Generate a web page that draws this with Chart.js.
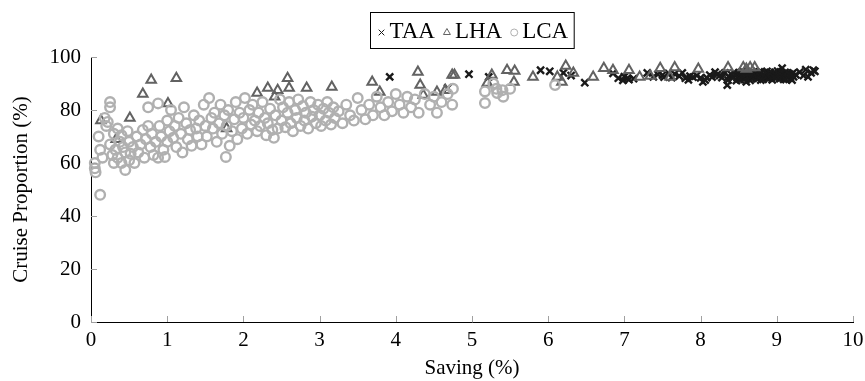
<!DOCTYPE html>
<html>
<head>
<meta charset="utf-8">
<script src="https://cdn.jsdelivr.net/npm/chart.js@4"></script>
<style>
  body { margin: 0; background: #fff; }
  canvas { display: block; }
</style>
</head>
<body>
<canvas id="cruiseChart" width="865" height="381"></canvas>
<script>
// data: [saving %, cruise proportion %]
var seriesNames = ["TAA", "LHA", "LCA"];
var xTicks = [0, 1, 2, 3, 4, 5, 6, 7, 8, 9, 10];
var yTicks = [0, 20, 40, 60, 80, 100];

var taaPoints = [
  [3.92,92.5],[4.68,88.3],[4.96,93.5],[5.22,92.5],[5.9,95],[6.02,94.6],[6.2,94],[6.3,93],[6.48,90.3],
  [6.85,93.8],[6.92,92],[6.98,91.2],[7.0,92.6],[7.04,92],[7.06,91.5],[7.12,91.8],[7.3,94],[7.38,92.5],
  [7.44,93.4],[7.5,93.2],[7.52,92.4],[7.58,93.8],[7.62,92.2],[7.66,93.6],[7.72,92.8],[7.76,94],[7.8,92],
  [7.84,91.4],[7.86,92.8],[7.9,92.4],[7.95,93],[8.0,92.1],[8.03,90.6],[8.06,91.3],[8.08,92.2],[8.12,93.2],
  [8.15,92.4],[8.19,94.3],[8.22,93.4],[8.25,93],[8.28,92.2],[8.32,94],[8.35,89.4],[8.36,91.3],[8.37,92.6],
  [8.4,93.5],[8.42,92.3],[8.44,94.1],
  [8.46,93.2],[8.47,91.1],[8.48,92.1],[8.5,94],[8.51,93.1],[8.52,91.5],[8.53,92.7],[8.54,93],[8.55,94.6],
  [8.56,92.4],[8.57,91.6],[8.58,94.2],[8.59,93.1],[8.6,90.6],[8.61,93.6],[8.62,92.7],[8.63,92],[8.64,93.9],
  [8.65,91.2],[8.66,92.4],[8.67,94.5],[8.68,91.9],[8.69,93],[8.7,92.2],[8.71,93.6],[8.72,94],[8.73,92.8],
  [8.74,91.8],[8.75,92.4],[8.76,93.4],[8.77,94.4],[8.78,92.6],[8.79,91.3],[8.8,94.3],[8.81,93.1],
  [8.82,91.6],[8.83,92.5],[8.84,93],[8.85,92.2],[8.86,93.8],[8.87,94.6],[8.88,91.9],[8.89,93.3],[8.9,92],
  [8.91,94.2],[8.92,93.8],[8.93,92.6],[8.94,91.4],[8.95,92.8],[8.96,93.5],[8.97,94.1],[8.98,92.1],
  [8.99,93],[9.0,92.2],[9.01,94.7],[9.02,93.6],[9.03,92.6],[9.04,91.8],[9.05,94.4],[9.06,93.1],[9.07,95.8],
  [9.08,92.8],[9.09,91.6],[9.1,93.4],[9.11,94.2],[9.12,91.5],[9.13,92.4],[9.14,94],[9.15,92.6],[9.16,93.7],
  [9.17,93.2],[9.18,92],[9.2,91.3],[9.21,93.9],[9.22,92.5],[9.25,93.3],[9.3,94.3],[9.35,93],[9.38,95.2],
  [9.41,92.5],[9.45,94],[9.48,95],[9.5,94.6]
];

var lhaPoints = [
  [0.13,76],[0.33,69],[0.51,77],[0.68,86],[0.79,91.3],[1.01,82.5],[1.12,92],[1.78,73],[2.18,86.4],
  [2.32,88.3],[2.41,85],[2.45,87.5],[2.58,92],[2.6,88.3],[2.83,88.3],[3.16,88.7],[3.69,90.6],[3.79,86.8],
  [4.29,94.3],[4.32,89.4],[4.36,85.7],[4.54,86.8],[4.65,87.5],[4.74,93.2],[4.77,93.2],[5.2,90.2],
  [5.26,93.2],[5.46,95],[5.56,94.7],[5.55,90.6],[5.8,92.5],[6.12,92.5],[6.23,96.6],[6.18,90.6],[6.33,94],
  [6.59,92.5],[6.73,95.8],[6.85,95],[7.06,95],[7.2,92.5],[7.34,92.8],[7.47,95.8],[7.6,92.5],[7.66,96],
  [7.97,95.5],[8.36,96],[8.56,96],[8.6,95.5],[8.65,96],[8.71,96]
];

var lcaPoints = [
  [0.05,60],[0.05,58],[0.06,56.5],[0.12,48],[0.1,70],[0.12,65],[0.15,62],[0.18,77],[0.2,74],[0.22,75.5],
  [0.25,83],[0.25,81],[0.25,67],[0.28,63],[0.3,71],[0.3,60],[0.32,65],[0.35,73],[0.35,62],[0.38,68],
  [0.4,60],[0.4,70.5],[0.42,66],[0.45,57.4],[0.45,64],[0.48,72],[0.5,61],[0.5,68],
  [0.52,63.5],[0.55,66],[0.57,60],[0.6,70],[0.62,64],[0.65,67],[0.68,72.5],[0.7,62],[0.72,69],[0.75,81],
  [0.75,74],[0.78,66],[0.8,71],[0.82,63],[0.85,68],[0.88,62],[0.88,82.5],[0.9,74],[0.92,70],[0.95,65],
  [0.97,62.3],[1.0,76],[1.0,68],
  [1.03,72],[1.05,80],[1.08,69.5],[1.1,74],[1.12,66],[1.15,77],[1.18,71],[1.2,64],[1.22,81],[1.25,75],
  [1.27,69],[1.3,72.5],[1.32,66.5],[1.35,78],[1.38,73],[1.4,70],[1.42,76],[1.45,67],[1.48,82],[1.5,74],
  [1.52,70],[1.55,84.5],[1.58,77],[1.6,73],[1.62,79],[1.65,68],[1.68,75],[1.7,82],[1.72,71],[1.75,78],
  [1.77,62.3],[1.78,74],[1.8,80],[1.82,66.5],[1.85,72],[1.88,76.5],[1.9,83],[1.92,69],[1.95,79],[1.98,73],
  [2.0,77],[2.02,84.5],[2.05,71],[2.08,80],[2.1,74.5],[2.12,82],[2.15,76],[2.18,72],[2.2,79],[2.22,74],
  [2.25,83],[2.28,77],[2.3,70.5],[2.32,75],[2.35,80.5],[2.38,72.5],[2.4,69.5],[2.42,78],[2.45,73],[2.48,84],
  [2.5,76],[2.52,81],[2.55,73.5],[2.58,79],[2.6,83],[2.62,75],[2.65,72],[2.68,80],[2.7,77],[2.72,84],
  [2.75,74],[2.78,81.5],[2.8,76],[2.82,79],[2.85,73],[2.88,83],[2.9,77.5],[2.92,80],[2.95,75],[2.98,82],
  [3.0,78],[3.02,74],[3.05,80.5],[3.08,76],[3.1,83],[3.12,79],[3.15,74.5],[3.18,81],[3.2,77],[3.25,79.5],
  [3.3,75],[3.35,82],[3.4,78],[3.45,76],[3.5,84.5],
  [3.55,80],[3.6,76.5],[3.65,82],[3.7,78],[3.75,85],[3.8,81],[3.85,78],[3.9,83],[3.95,79.5],[4.0,86],
  [4.05,82],[4.1,79],[4.15,85],[4.2,81],[4.25,84],[4.3,79],[4.38,86],[4.45,82],[4.5,85],[4.54,79],
  [4.6,83],[4.68,86],[4.74,82],[4.75,88],
  [5.17,87],[5.17,82.6],[5.28,90],[5.32,88],[5.33,86.4],[5.4,87.5],[5.41,85],[5.5,88],[6.09,89.4]
];

function toXY(arr) {
  return arr.map(function (p) { return { x: p[0], y: p[1] }; });
}

var serifFont = "'Liberation Serif', 'DejaVu Serif', serif";

// inward tick marks like the pgfplots original
var innerTicks = {
  id: "innerTicks",
  afterDraw: function (chart) {
    var ctx = chart.ctx, xs = chart.scales.x, ys = chart.scales.y;
    ctx.save();
    ctx.strokeStyle = "#a0a0a0";
    ctx.lineWidth = 1;
    ctx.beginPath();
    xTicks.forEach(function (v) {
      var px = Math.round(xs.getPixelForValue(v)) + 0.5;
      ctx.moveTo(px, ys.bottom);
      ctx.lineTo(px, ys.bottom - 6);
    });
    yTicks.forEach(function (v) {
      var py = Math.round(ys.getPixelForValue(v)) + 0.5;
      ctx.moveTo(xs.left, py);
      ctx.lineTo(xs.left + 6, py);
    });
    ctx.stroke();
    ctx.restore();
  }
};

// boxed legend on top
var boxLegend = {
  id: "boxLegend",
  afterDraw: function (chart) {
    var ctx = chart.ctx;
    var area = chart.chartArea;
    ctx.save();
    ctx.font = "23px " + serifFont;
    var markW = 10, gap = 3, itemGap = 7, pad = 6;
    var total = pad * 2;
    chart.data.datasets.forEach(function (ds, i) {
      total += markW + gap + ctx.measureText(ds.label).width;
      if (i > 0) total += itemGap;
    });
    var left = Math.round((area.left + area.right) / 2 - total / 2) + 0.5;
    var top = 12.5, h = 36;
    ctx.fillStyle = "#fff";
    ctx.fillRect(left, top, total, h);
    ctx.strokeStyle = "#000";
    ctx.lineWidth = 1;
    ctx.strokeRect(left, top, total, h);
    var x = left + pad;
    var cy = top + h / 2;
    chart.data.datasets.forEach(function (ds, i) {
      if (i > 0) x += itemGap;
      ctx.strokeStyle = ds.borderColor;
      ctx.fillStyle = "rgba(0,0,0,0)";
      Chart.helpers.drawPoint(ctx, {
        pointStyle: ds.pointStyle,
        radius: ds.legendRadius,
        borderWidth: ds.borderWidth,
        rotation: 0
      }, x + markW / 2, cy + 2);
      x += markW + gap;
      ctx.fillStyle = "#000";
      ctx.textBaseline = "middle";
      ctx.fillText(ds.label, x, cy + 1);
      x += ctx.measureText(ds.label).width;
    });
    ctx.restore();
  }
};

new Chart("cruiseChart", {
  type: "scatter",
  data: {
    datasets: [{
      label: seriesNames[0],
      data: toXY(taaPoints),
      pointStyle: "crossRot",
      pointRadius: 5,
      borderWidth: 2.4,
      borderColor: "#1a1a1a",
      backgroundColor: "#1a1a1a",
      legendRadius: 4,
      order: 2,
      clip: false
    }, {
      label: seriesNames[1],
      data: toXY(lhaPoints),
      pointStyle: "triangle",
      pointRadius: 5.5,
      borderWidth: 2,
      borderColor: "#626262",
      backgroundColor: "rgba(0,0,0,0)",
      legendRadius: 4,
      order: 1,
      clip: false
    }, {
      label: seriesNames[2],
      data: toXY(lcaPoints),
      pointStyle: "circle",
      pointRadius: 4.8,
      borderWidth: 2.4,
      borderColor: "#b0b0b0",
      backgroundColor: "rgba(0,0,0,0)",
      legendRadius: 3.5,
      order: 0,
      clip: false
    }]
  },
  options: {
    responsive: false,
    animation: false,
    devicePixelRatio: 1,
    layout: { padding: { top: 57, right: 12, left: 0, bottom: 0 } },
    plugins: {
      legend: { display: false },
      tooltip: { enabled: false }
    },
    scales: {
      x: {
        type: "linear",
        min: 0,
        max: 10,
        afterBuildTicks: function (scale) {
          scale.ticks = xTicks.map(function (v) { return { value: v }; });
        },
        afterFit: function (scale) {
          scale.height = 59;
          scale.paddingRight = 0;
          scale.paddingLeft = 0;
        },
        grid: { display: false, drawTicks: false },
        border: { display: true, color: "#000", width: 1 },
        ticks: { color: "#000", padding: 6, font: { family: serifFont, size: 21 } },
        title: {
          display: true,
          text: "Saving (%)",
          color: "#000",
          font: { family: serifFont, size: 21 },
          padding: { top: 2, bottom: 0 }
        }
      },
      y: {
        type: "linear",
        min: 0,
        max: 100,
        afterBuildTicks: function (scale) {
          scale.ticks = yTicks.map(function (v) { return { value: v }; });
        },
        afterFit: function (scale) { scale.width = 91; },
        grid: { display: false, drawTicks: false },
        border: { display: true, color: "#000", width: 1 },
        ticks: { color: "#000", padding: 10, font: { family: serifFont, size: 21 } },
        title: {
          display: true,
          text: "Cruise Proportion (%)",
          color: "#000",
          font: { family: serifFont, size: 21 },
          padding: { top: 9, bottom: 0 }
        }
      }
    }
  },
  plugins: [innerTicks, boxLegend]
});
</script>
</body>
</html>
